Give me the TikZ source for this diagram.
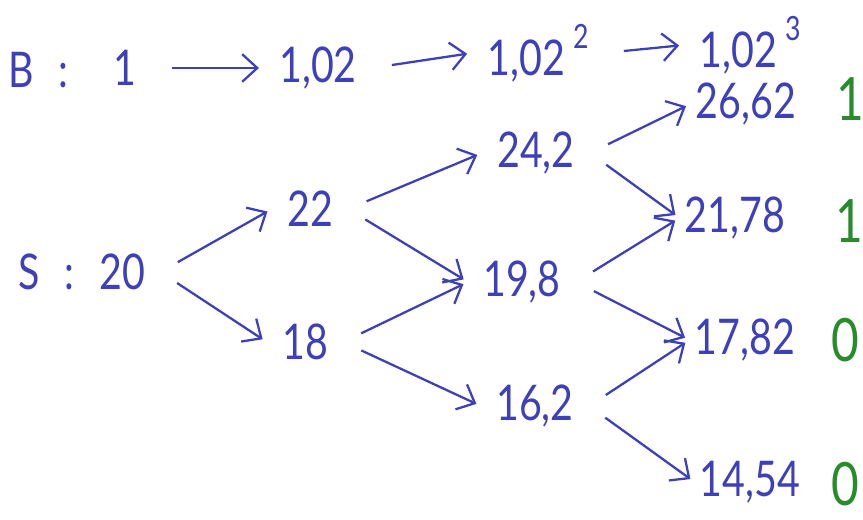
\documentclass[tikz,border=0pt]{standalone}
\usepackage{fontspec}
\setmainfont{Lato}[FakeStretch=0.8]
\usetikzlibrary{arrows.meta}
\definecolor{pen}{RGB}{62,64,185}
\definecolor{mark}{RGB}{40,140,45}
\newcommand\hsup[1]{\,\raisebox{0.55em}{\fontsize{19}{19}\selectfont#1}}
\begin{document}
\begin{tikzpicture}[
		v/.style={text=pen, inner xsep=0.3cm, inner ysep=1pt, font=\fontsize{28}{32}\selectfont},
		leaf/.style={v, inner xsep=1mm},
		p/.style={text=mark, inner sep=1pt, font=\fontsize{34}{38}\selectfont},
		a/.style={->, draw=pen, line width=1.3pt, >={Straight Barb[length=3mm, width=5.5mm]}, shorten <=4mm, shorten >=1mm}
		]
		\useasboundingbox (0,0) rectangle (17.26,10.38);
		
		%Nodes
		\node[v, inner xsep=0pt, anchor=west]	(blab)	at (0.16, 8.98)	{B\enspace:};
		\node[v]	(b0)	at (2.5, 9.02)		{1};
		\node[v]	(b1)	at (6.36, 9.02)		{1,02};
		\node[v]	(b2)	at (10.76, 9.32)	{1,02\hsup{2}};
		\node[v]	(b3)	at (15.0, 9.48)		{1,02\hsup{3}};
		
		\node[v]	(s0)	at (1.64, 4.94)		{S\enspace:\enspace20};
		\node[v]	(u)		at (6.2, 6.2)		{22};
		\node[v]	(d)		at (6.1, 3.54)		{18};
		\node[v]	(uu)	at (10.72, 7.32)	{24,2};
		\node[v]	(ud)	at (10.44, 4.74)	{19,8};
		\node[v]	(dd)	at (10.7, 2.26)		{16,2};
		\node[leaf]	(uuu)	at (14.92, 8.3)		{26,62};
		\node[leaf]	(uud)	at (14.7, 6.02)		{21,78};
		\node[leaf]	(udd)	at (14.9, 3.58)		{17,82};
		\node[leaf]	(ddd)	at (15.0, 0.74)		{14,54};
		
		\node[p]	(p1)	at (17.0, 8.4)		{1};
		\node[p]	(p2)	at (16.98, 5.96)	{1};
		\node[p]	(p3)	at (16.9, 3.58)		{0};
		\node[p]	(p4)	at (16.9, 0.7)		{0};
		
		%Lines
		\draw[a] (b0.east) -- (b1.west);
		\draw[a] (b1.east) -- (b2.west);
		\draw[a] (b2.east) -- (b3.west);
		
		\draw[a] (s0.east) -- (u.west);
		\draw[a] (s0.east) -- (d.west);
		\draw[a] (u.east) -- (uu.west);
		\draw[a] (u.east) -- (ud.west);
		\draw[a] (d.east) -- (ud.west);
		\draw[a] (d.east) -- (dd.west);
		\draw[a] (uu.east) -- (uuu.west);
		\draw[a] (uu.east) -- (uud.west);
		\draw[a] (ud.east) -- (uud.west);
		\draw[a] (ud.east) -- (udd.west);
		\draw[a] (dd.east) -- (udd.west);
		\draw[a] (dd.east) -- (ddd.west);
		
	\end{tikzpicture}
\end{document}
